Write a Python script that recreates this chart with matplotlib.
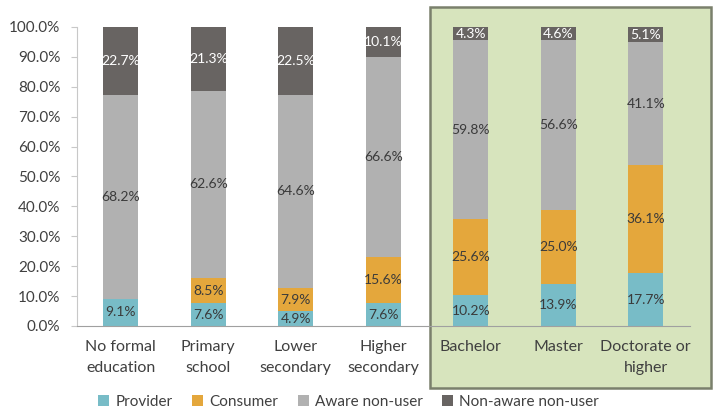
import matplotlib
matplotlib.use("Agg")
import matplotlib.pyplot as plt
from matplotlib.patches import Rectangle, Patch

plt.rcParams['font.family'] = ['Lato', 'DejaVu Sans']

categories = ["No formal\neducation", "Primary\nschool", "Lower\nsecondary",
              "Higher\nsecondary", "Bachelor", "Master", "Doctorate or\nhigher"]
series_names = ["Provider", "Consumer", "Aware non-user", "Non-aware non-user"]
provider = [9.1, 7.6, 4.9, 7.6, 10.2, 13.9, 17.7]
consumer = [0.0, 8.5, 7.9, 15.6, 25.6, 25.0, 36.1]
aware = [68.2, 62.6, 64.6, 66.6, 59.8, 56.6, 41.1]
non_aware = [22.7, 21.3, 22.5, 10.1, 4.3, 4.6, 5.1]
y_ticks = [0, 10, 20, 30, 40, 50, 60, 70, 80, 90, 100]

colors = ["#78bcc7", "#e4a73c", "#b1b1b1", "#686462"]
label_colors = ["#3a3a3a", "#3a3a3a", "#3a3a3a", "#ffffff"]
text_color = "#404040"

fig = plt.figure(figsize=(7.16, 4.08), dpi=100)
fig.patch.set_facecolor("white")

# highlight panel behind the higher-education group
panel = Rectangle((0.6006, 0.049), 0.3924, 0.934, transform=fig.transFigure,
                  facecolor="#d7e4bd", edgecolor="#7a806c", linewidth=1.8)
panel.set_zorder(-1)
fig.add_artist(panel)

ax = fig.add_axes([0.1075, 0.201, 0.8555, 0.733])
ax.set_facecolor("none")
ax.set_zorder(1)

x = list(range(len(categories)))
bottom = [0.0] * len(categories)
for vals, name, col, lcol in zip([provider, consumer, aware, non_aware],
                                  series_names, colors, label_colors):
    ax.bar(x, vals, width=0.4, bottom=bottom, color=col, label=name, zorder=2)
    for xi, v, b in zip(x, vals, bottom):
        if v > 0:
            ax.text(xi, b + v / 2, f"{v:.1f}%", ha="center", va="center",
                    fontsize=10, color=lcol, zorder=3)
    bottom = [b + v for b, v in zip(bottom, vals)]

ax.set_xlim(-0.5, len(categories) - 0.5)
ax.set_ylim(0, 100)
ax.set_yticks(y_ticks)
ax.set_yticklabels([f"{t:.1f}%" for t in y_ticks], fontsize=11, color=text_color)
ax.set_xticks(x)
ax.set_xticklabels(categories, fontsize=11.5, color=text_color, linespacing=1.65)
ax.tick_params(axis="x", length=0, pad=10)
ax.tick_params(axis="y", length=4, color="#c8c8c8", pad=8)
for side in ["top", "right"]:
    ax.spines[side].set_visible(False)
ax.spines["left"].set_color("#c8c8c8")
ax.spines["bottom"].set_color("#a0a0a0")

handles = [Patch(facecolor=c, edgecolor="none") for c in colors]
fig.legend(handles, series_names, loc="lower center", bbox_to_anchor=(0.487, -0.035),
           ncol=4, frameon=False, fontsize=11, handlelength=0.7, handleheight=0.7,
           handletextpad=0.4, columnspacing=1.3, labelcolor=text_color)

fig.savefig("out.png", dpi=100, facecolor="white")
